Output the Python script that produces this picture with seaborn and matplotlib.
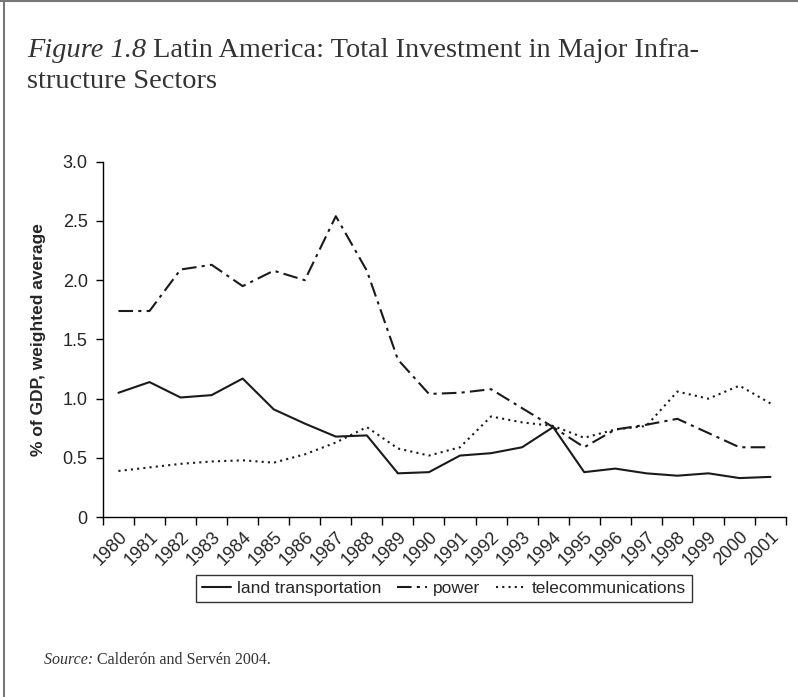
import matplotlib.pyplot as plt
import pandas as pd
import seaborn as sns
from matplotlib.lines import Line2D

years = list(range(1980, 2002))
land_transport = [1.05, 1.14, 1.01, 1.03, 1.17, 0.91, 0.79, 0.68, 0.69, 0.37, 0.38,
                  0.52, 0.54, 0.59, 0.76, 0.38, 0.41, 0.37, 0.35, 0.37, 0.33, 0.34]
power = [1.74, 1.74, 2.09, 2.13, 1.95, 2.08, 2.00, 2.54, 2.08, 1.33, 1.04,
         1.05, 1.08, 0.92, 0.76, 0.59, 0.74, 0.78, 0.83, 0.71, 0.59, 0.59]
telecom = [0.39, 0.42, 0.45, 0.47, 0.48, 0.46, 0.53, 0.63, 0.76, 0.58, 0.52,
           0.59, 0.85, 0.80, 0.77, 0.67, 0.74, 0.77, 1.06, 1.00, 1.11, 0.96]
series_names = ["land transportation", "power", "telecommunications"]


def text_pair(fig, x, y, first, second, **kw):
    # italic first part, roman second part, placed right after it
    t = fig.text(x, y, first + " ", style="italic", **kw)
    fig.canvas.draw()
    bb = t.get_window_extent().transformed(fig.transFigure.inverted())
    fig.text(bb.x1, y, second, **kw)


if __name__ == "__main__":
    frames = []
    for name, vals in zip(series_names, [land_transport, power, telecom]):
        frames.append(pd.DataFrame({"year": years, "value": vals, "series": name}))
    data = pd.concat(frames, ignore_index=True)

    sns.set_style("ticks")
    plt.rcParams['font.family'] = ['Liberation Sans', 'DejaVu Sans']

    fig = plt.figure(figsize=(7.98, 6.97), dpi=100)
    ax = fig.add_axes([0.129, 0.258, 0.856, 0.510])

    dashes = {"land transportation": "",
              "power": (7, 2.5, 1.5, 2.5),
              "telecommunications": (1, 2)}
    sns.lineplot(data=data, x="year", y="value", style="series", dashes=dashes,
                 color="#1a1a1a", linewidth=1.5, ax=ax, legend=False)

    ax.set_xlim(years[0] - 0.5, years[-1] + 0.5)
    ax.set_ylim(0, 3.0)
    ax.set_yticks([0, 0.5, 1.0, 1.5, 2.0, 2.5, 3.0])
    ax.set_yticklabels(["0", "0.5", "1.0", "1.5", "2.0", "2.5", "3.0"], fontsize=13)
    ax.set_xticks([y - 0.5 for y in years] + [years[-1] + 0.5])
    ax.set_xticklabels([])
    ax.set_xticks(years, minor=True)
    ax.set_xticklabels([str(y) for y in years], minor=True, rotation=45,
                       ha="right", rotation_mode="anchor", fontsize=13)
    ax.tick_params(axis="x", which="minor", length=0, pad=8)
    ax.tick_params(axis="x", which="major", length=6, width=1, color="black")
    ax.tick_params(axis="y", length=5, width=1, color="black", pad=6)
    for s in ["left", "bottom"]:
        ax.spines[s].set_color("black")
        ax.spines[s].set_linewidth(1)
    sns.despine(ax=ax)
    ax.set_xlabel("")
    ax.set_ylabel("% of GDP, weighted average", fontsize=12.5, fontweight="bold", labelpad=12)

    handles = [Line2D([], [], color="#1a1a1a", lw=1.5, linestyle="-"),
               Line2D([], [], color="#1a1a1a", lw=1.5, dashes=dashes["power"]),
               Line2D([], [], color="#1a1a1a", lw=1.5, dashes=dashes["telecommunications"])]
    leg = fig.legend(handles, series_names, loc="center", bbox_to_anchor=(0.556, 0.156),
                     ncol=3, fontsize=12.5, frameon=True, fancybox=False,
                     handlelength=1.7, handletextpad=0.35, columnspacing=0.9,
                     borderpad=0.35, borderaxespad=0)
    leg.get_frame().set_edgecolor("black")
    leg.get_frame().set_linewidth(1)

    serif = ['Liberation Serif', 'DejaVu Serif']
    kw = dict(family=serif, fontsize=20.4, color="#333333")
    text_pair(fig, 0.034, 0.918, "Figure 1.8", "Latin America: Total Investment in Major Infra-", **kw)
    fig.text(0.034, 0.874, "structure Sectors", **kw)
    text_pair(fig, 0.055, 0.048, "Source:", "Calderón and Servén 2004.",
              family=serif, fontsize=11.5, color="#333333")

    fig.add_artist(Line2D([0, 1], [0.998, 0.998], color="#777777", lw=1.5))
    fig.add_artist(Line2D([0.005, 0.005], [0, 0.998], color="#777777", lw=1.5))

    plt.savefig("out.png", dpi=100)
